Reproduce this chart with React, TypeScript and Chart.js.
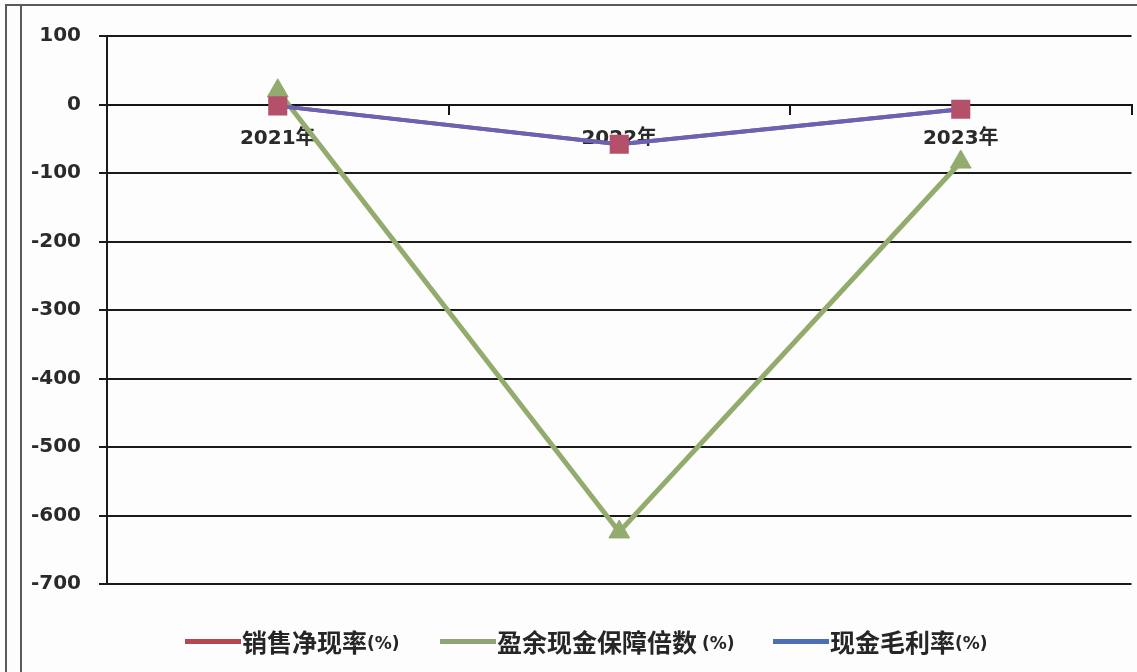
import { useEffect, useRef } from "react";
import { Chart, registerables } from "chart.js";

Chart.register(...registerables);

// Categories and series (percent values)
const years = ["2021年", "2022年", "2023年"];
const netCashRatio = [-2, -58, -7]; // 销售净现率(%)
const earningsCashCover = [20, -624, -84]; // 盈余现金保障倍数(%)
const cashGrossMargin = [-2, -58, -7]; // 现金毛利率(%)

// Value axis range and step
const yMin = -700;
const yMax = 100;
const yStep = 100;

const legendItems = [
  { text: "销售净现率", left: 185, color: "#b5474f" },
  { text: "盈余现金保障倍数", left: 440, color: "#8fa477", gap: 5 },
  { text: "现金毛利率", left: 773, color: "#4d6db6" },
];

const RED_LINE = "#b5474f";
const RED_MARK = "#b4506a";
const GREEN = "#93ab6c";
const BLUE_LINE = "#6763b5";

const TICK_FONT = "'DejaVu Sans', 'Noto Sans CJK SC', sans-serif";
const CJK_FONT = "'Noto Sans CJK SC', 'DejaVu Sans', sans-serif";

// canvas is a little wider than the page so the plot reaches the right edge
const CANVAS_W = 1145;
const CANVAS_H = 672;

function LineChart() {
  const canvasRef = useRef<HTMLCanvasElement | null>(null);

  useEffect(() => {
    const canvas = canvasRef.current;
    if (!canvas) return;
    const chart = new Chart(canvas, {
      type: "line",
      data: {
        labels: years,
        datasets: [
          {
            label: "销售净现率(%)",
            data: netCashRatio,
            borderColor: RED_LINE,
            backgroundColor: RED_LINE,
            borderWidth: 4,
            pointRadius: 0,
            order: 2,
          },
          {
            label: "盈余现金保障倍数(%)",
            data: earningsCashCover,
            borderColor: GREEN,
            backgroundColor: GREEN,
            borderWidth: 5,
            pointStyle: "triangle",
            pointRadius: 12,
            pointBackgroundColor: GREEN,
            pointBorderColor: GREEN,
            pointBorderWidth: 1,
            order: 3,
          },
          {
            label: "现金毛利率(%)",
            data: cashGrossMargin,
            borderColor: BLUE_LINE,
            backgroundColor: BLUE_LINE,
            borderWidth: 4,
            pointRadius: 0,
            order: 1,
          },
          {
            // square markers of 销售净现率 sit above both lines
            label: "销售净现率(%) markers",
            data: netCashRatio,
            showLine: false,
            pointStyle: "rect",
            pointRadius: 13.5,
            pointBackgroundColor: RED_MARK,
            pointBorderColor: RED_MARK,
            pointBorderWidth: 0,
            order: 0,
          },
        ],
      },
      options: {
        responsive: false,
        animation: false,
        devicePixelRatio: 1,
        layout: { padding: { top: 36, right: 0, bottom: 88, left: 0 } },
        plugins: {
          legend: { display: false },
          tooltip: { enabled: false },
          title: { display: false },
        },
        scales: {
          x: {
            type: "category",
            position: { y: 0 } as any,
            offset: true,
            z: 1,
            grid: {
              display: true,
              offset: true,
              drawOnChartArea: false,
              drawTicks: true,
              tickLength: 9,
              color: "#151515",
              lineWidth: 2,
            },
            border: { display: true, color: "#151515", width: 2 },
            ticks: {
              padding: 13,
              color: "#2a2a2a",
              autoSkip: false,
              maxRotation: 0,
              font: { family: TICK_FONT, size: 20, weight: "bold" },
            },
          },
          y: {
            min: yMin,
            max: yMax,
            ticks: {
              stepSize: yStep,
              padding: 18,
              color: "#2a2a2a",
              font: { family: TICK_FONT, size: 20, weight: "bold" },
            },
            grid: {
              color: "#1a1a1a",
              lineWidth: 2,
              drawTicks: true,
              tickLength: 8,
            },
            border: { display: true, color: "#1a1a1a", width: 2 },
            afterFit: (scale: any) => {
              scale.width = 107;
            },
          },
        },
      },
    });
    return () => chart.destroy();
  }, []);

  return (
    <canvas
      ref={canvasRef}
      width={CANVAS_W}
      height={CANVAS_H}
      style={{ position: "absolute", left: 0, top: 0, display: "block" }}
    />
  );
}

export default function App() {
  return (
    <div
      style={{
        position: "fixed",
        left: 0,
        top: 0,
        width: 1137,
        height: 672,
        background: "#fdfdfe",
        overflow: "hidden",
      }}
    >
      {/* frame lines on the top and left edge */}
      <div style={{ position: "absolute", left: 5, top: 4, width: 1132, height: 0, borderTop: "2px solid #5a5a5a" }} />
      <div style={{ position: "absolute", left: 5, top: 4, width: 0, height: 668, borderLeft: "2px solid #5a5a5a" }} />
      <div style={{ position: "absolute", left: 20, top: 4, width: 0, height: 668, borderLeft: "2px solid #5a5a5a" }} />
      <LineChart />
      {legendItems.map((item) => (
        <div
          key={item.text}
          style={{
            position: "absolute",
            left: item.left,
            top: 624,
            height: 34,
            display: "flex",
            alignItems: "center",
            whiteSpace: "nowrap",
          }}
        >
          <span style={{ display: "inline-block", width: 56, height: 5, background: item.color }} />
          <span
            style={{
              fontFamily: CJK_FONT,
              fontWeight: 700,
              fontSize: 25,
              color: "#262626",
              lineHeight: "34px",
              marginLeft: 1,
            }}
          >
            {item.text}
          </span>
          <span
            style={{
              fontFamily: TICK_FONT,
              fontWeight: 700,
              fontSize: 17,
              color: "#262626",
              lineHeight: "34px",
              marginLeft: item.gap || 0,
              paddingTop: 3,
            }}
          >
            (%)
          </span>
        </div>
      ))}
    </div>
  );
}
